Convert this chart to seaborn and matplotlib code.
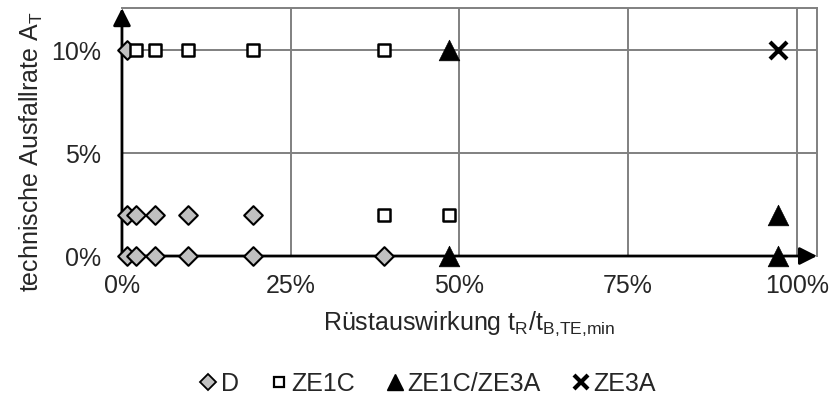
import matplotlib
matplotlib.use('Agg')
import matplotlib.pyplot as plt
import pandas as pd
import seaborn as sns
from matplotlib.ticker import FuncFormatter
from matplotlib.lines import Line2D

# ---------------------------
# Data (values in %)
# ---------------------------
d_x = [0.7, 0.7, 2.1, 4.9, 9.8, 19.4, 0.7, 2.1, 4.9, 9.8, 19.4, 38.9]
d_y = [10, 2, 2, 2, 2, 2, 0, 0, 0, 0, 0, 0]

ze1c_x = [2.1, 4.9, 9.8, 19.4, 38.9, 38.9, 48.5]
ze1c_y = [10, 10, 10, 10, 10, 2, 2]

ze1c3a_x = [48.5, 48.5, 97.2, 97.2]
ze1c3a_y = [10, 0, 2, 0]

ze3a_x = [97.2]
ze3a_y = [10]

series_names = ["D", "ZE1C", "ZE1C/ZE3A", "ZE3A"]
x_ticks = [0, 25, 50, 75, 100]
y_ticks = [0, 5, 10]

df = pd.concat([
    pd.DataFrame({"x": d_x, "y": d_y, "Serie": series_names[0]}),
    pd.DataFrame({"x": ze1c_x, "y": ze1c_y, "Serie": series_names[1]}),
    pd.DataFrame({"x": ze1c3a_x, "y": ze1c3a_y, "Serie": series_names[2]}),
    pd.DataFrame({"x": ze3a_x, "y": ze3a_y, "Serie": series_names[3]}),
])

# ---------------------------
# Style
# ---------------------------
sns.set_style("white")
plt.rcParams['font.family'] = ['Liberation Sans', 'DejaVu Sans']
plt.rcParams['mathtext.fontset'] = 'custom'
plt.rcParams['mathtext.rm'] = 'Liberation Sans'
plt.rcParams['mathtext.it'] = 'Liberation Sans:italic'

fs = 18
fig = plt.figure(figsize=(8.32, 4.08), dpi=100)
ax = fig.add_axes([0.1466, 0.3725, 0.9820 - 0.1466, 0.980 - 0.3725])

styles = {
    "D": dict(marker="D", s=90, color="#c0c0c0", edgecolor="black", linewidth=1.5),
    "ZE1C": dict(marker="s", s=80, color="white", edgecolor="black", linewidth=1.8),
    "ZE1C/ZE3A": dict(marker="^", s=220, color="black", edgecolor="black", linewidth=0.5),
    "ZE3A": dict(marker="x", s=150, color="black", linewidth=3),
}

for i, name in enumerate(series_names):
    sub = df[df["Serie"] == name]
    sns.scatterplot(data=sub, x="x", y="y", ax=ax, clip_on=False,
                    zorder=5 + i, legend=False, **styles[name])

ax.set_xlim(0, 103)
ax.set_ylim(0, 12.04)
ax.set_xticks(x_ticks)
ax.set_yticks(y_ticks)
ax.xaxis.set_major_formatter(FuncFormatter(lambda v, p: f"{v:.0f}%"))
ax.yaxis.set_major_formatter(FuncFormatter(lambda v, p: f"{v:.0f}%"))
ax.tick_params(labelsize=fs, length=0)
ax.tick_params(axis='x', pad=13)
ax.tick_params(axis='y', pad=15)

ax.grid(True, color="#808080", linewidth=1.4)
ax.set_axisbelow(True)
for side in ["top", "right"]:
    ax.spines[side].set_color("#808080")
    ax.spines[side].set_linewidth(1.4)
for side in ["left", "bottom"]:
    ax.spines[side].set_visible(False)

# axis arrows
arrow = dict(arrowstyle="-|>,head_length=0.75,head_width=0.38", color="black",
             lw=2, shrinkA=0, shrinkB=0, mutation_scale=14)
ax.annotate("", xy=(0, 1.0), xytext=(0, 0), xycoords="axes fraction",
            arrowprops=arrow, zorder=4, annotation_clip=False)
ax.annotate("", xy=(1.0, 0), xytext=(0, 0), xycoords="axes fraction",
            arrowprops=arrow, zorder=4, annotation_clip=False)

ax.set_xlabel(r"Rüstauswirkung t$_\mathrm{R}$/t$_\mathrm{B{,}TE{,}min}$", fontsize=fs, labelpad=8)
ax.set_ylabel(r"technische Ausfallrate A$_\mathrm{T}$", fontsize=fs)
ax.yaxis.set_label_coords(-0.111, 0.42)

handles = [
    Line2D([], [], linestyle="", marker="D", markersize=8, markerfacecolor="#c0c0c0",
           markeredgecolor="black", markeredgewidth=1.3),
    Line2D([], [], linestyle="", marker="s", markersize=7, markerfacecolor="white",
           markeredgecolor="black", markeredgewidth=1.6),
    Line2D([], [], linestyle="", marker="^", markersize=11, color="black"),
    Line2D([], [], linestyle="", marker="x", markersize=10, color="black", markeredgewidth=3),
]
fig.legend(handles, series_names, loc="center", bbox_to_anchor=(0.515, 0.06), ncol=4,
           frameon=False, fontsize=fs, handlelength=0.6, handletextpad=0.2,
           columnspacing=1.3)

fig.savefig("out.png", dpi=100)
plt.close(fig)
